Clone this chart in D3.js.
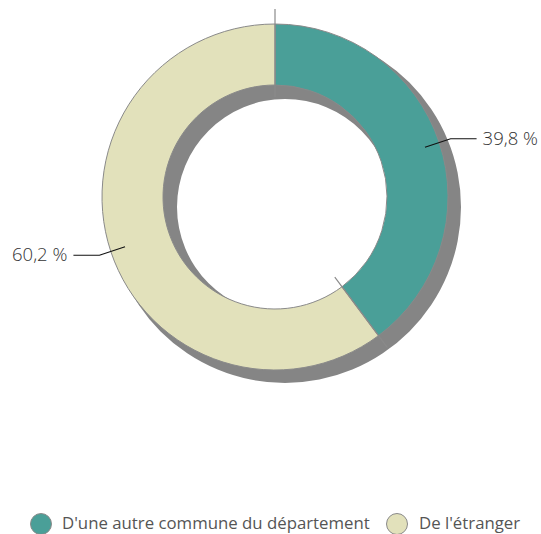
<!DOCTYPE html>
<html><head><meta charset="utf-8">
<script src="https://cdn.jsdelivr.net/npm/d3@7"></script>
<style>body{margin:0;background:#fff}svg{display:block}</style>
</head><body>
<svg id="c" width="541" height="534"></svg>
<script>
const categories = ["D'une autre commune du département", "De l'étranger"];
const values = [39.8, 60.2];
const labels = ["39,8 %", "60,2 %"];
const colors = ["#4a9f98", "#e2e1bb"];

const svg = d3.select("#c");
const cx = 275, cy = 197, rOut = 173, rIn = 112;
const pie = d3.pie().sort(null).value(d => d)(values);
const arc = d3.arc().innerRadius(rIn).outerRadius(rOut);

// shadow ring
const shadowArc = d3.arc().innerRadius(108).outerRadius(176).startAngle(0).endAngle(2*Math.PI);
svg.append("path").attr("transform", `translate(${cx+10},${cy+10})`)
  .attr("d", shadowArc()).attr("fill", "#858585");

const g = svg.append("g").attr("transform", `translate(${cx},${cy})`);
g.selectAll("path.slice").data(pie).join("path").attr("class","slice")
  .attr("d", arc).attr("fill", (d,i) => colors[i])
  .attr("stroke", "#8a8a8a").attr("stroke-width", 1);

// separator extensions
g.selectAll("line.sep").data(pie).join("line").attr("class","sep")
  .attr("x1", d => 100*Math.sin(d.startAngle)).attr("y1", d => -100*Math.cos(d.startAngle))
  .attr("x2", d => 188*Math.sin(d.startAngle)).attr("y2", d => -188*Math.cos(d.startAngle))
  .attr("stroke", "#8a8a8a").attr("stroke-width", 1.2);

// leaders and labels
pie.forEach((d, i) => {
  const a = (d.startAngle + d.endAngle) / 2;
  const s = Math.sin(a), c = -Math.cos(a);
  const p1 = [158*s, 158*c], p2 = [185*s, 185*c];
  const dir = s > 0 ? 1 : -1;
  const p3 = [p2[0] + dir*26, p2[1]];
  g.append("polyline").attr("points", [p1,p2,p3].map(p=>p.join(",")).join(" "))
    .attr("fill","none").attr("stroke","#111").attr("stroke-width",1.2);
  g.append("text").attr("x", p3[0] + dir*6).attr("y", p3[1] + 6)
    .attr("text-anchor", dir > 0 ? "start" : "end")
    .attr("font-family", "'Open Sans', sans-serif").attr("font-weight", 300)
    .attr("font-size", 18.5).attr("fill", "#333").text(labels[i]);
});

// legend
const leg = svg.append("g");
const items = [{x: 41, tx: 62}, {x: 397, tx: 419}];
categories.forEach((cat, i) => {
  leg.append("circle").attr("cx", items[i].x).attr("cy", 524).attr("r", 10.5)
    .attr("fill", colors[i]).attr("stroke", "#8a8a8a").attr("stroke-width", 1);
  leg.append("text").attr("x", items[i].tx).attr("y", 529)
    .attr("font-family", "'Open Sans', sans-serif").attr("font-size", 16.8)
    .attr("fill", "#555").text(cat);
});
</script>
</body></html>
